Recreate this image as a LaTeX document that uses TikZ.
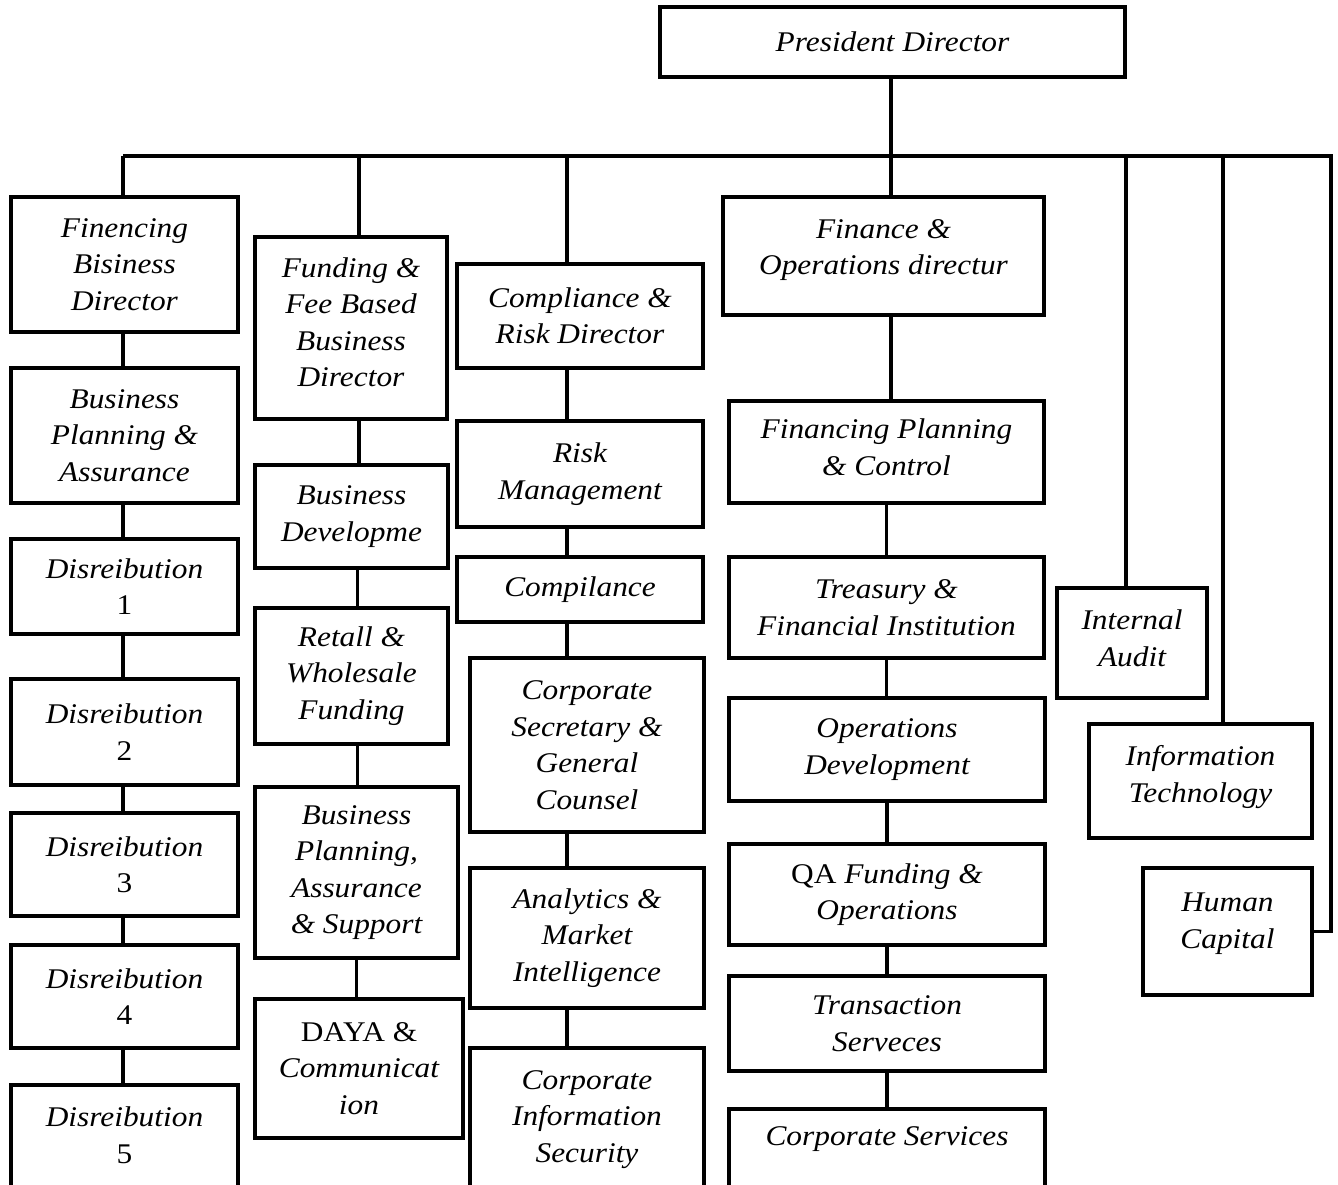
\documentclass[tikz,border=0pt]{standalone}
\usepackage{fontspec}
\setmainfont{Liberation Serif}[FakeStretch=1.1]
\begin{document}
\begin{tikzpicture}[x=1pt,y=-1pt,line width=3.5pt,
  box/.style={draw,align=center,inner sep=0pt,
    font=\fontsize{28.5}{36.5}\selectfont\itshape}]
%
\useasboundingbox (0,0) rectangle (1338,1185);
\clip (0,0) rectangle (1338,1185);
%
% --- top ---
\node[box,minimum width=465,minimum height=70] (pd) at (892.5,42) {President Director};
% bus points
\coordinate (b1) at (123,156);
\coordinate (b2) at (359,156);
\coordinate (b3) at (567,156);
\coordinate (b4) at (891,156);
\coordinate (b5) at (1126,156);
\coordinate (b6) at (1223,156);
\coordinate (b7) at (1331,156);
%
% --- column 1: financing business ---
\node[box,minimum width=227,minimum height=135] (fbd) at (124.5,264.5) {Finencing\\Bisiness\\Director};
\node[box,minimum width=227,minimum height=135] (bpa) at (124.5,435.5) {Business\\Planning \&\\Assurance};
\node[box,minimum width=227,minimum height=95] (dis1) at (124.5,586.5) {Disreibution\\{\upshape 1}};
\node[box,minimum width=227,minimum height=106] (dis2) at (124.5,732) {Disreibution\\{\upshape 2}};
\node[box,minimum width=227,minimum height=103] (dis3) at (124.5,864.5) {Disreibution\\{\upshape 3}};
\node[box,minimum width=227,minimum height=103] (dis4) at (124.5,996.5) {Disreibution\\{\upshape 4}};
\node[box,minimum width=227,minimum height=110] (dis5) at (124.5,1140) {Disreibution\\{\upshape 5}\rule[-10pt]{0pt}{0pt}};
%
% --- column 2: funding & fee based ---
\node[box,minimum width=192,minimum height=182] (ffb) at (351,328) {Funding \&\\Fee Based\\Business\\Director\rule[-12pt]{0pt}{0pt}};
\node[box,minimum width=193,minimum height=103] (bdev) at (351.5,516.5) {Business\\Developme};
\node[box,minimum width=193,minimum height=136] (rwf) at (351.5,676) {Retall \&\\Wholesale\\Funding};
\node[box,minimum width=203,minimum height=171] (bpas) at (356.5,872.5) {Business\\Planning,\\Assurance\\\& Support};
\node[box,minimum width=208,minimum height=139] (daya) at (359,1068.5) {{\upshape DAYA \&}\\Communicat\\ion};
%
% --- column 3: compliance & risk ---
\node[box,minimum width=246,minimum height=104] (crd) at (580,316) {Compliance \&\\Risk Director};
\node[box,minimum width=246,minimum height=106] (risk) at (580,474) {Risk\\Management};
\node[box,minimum width=246,minimum height=65] (comp) at (580,589.5) {Compilance};
\node[box,minimum width=234,minimum height=174] (csgc) at (587,745) {Corporate\\Secretary \&\\General\\Counsel};
\node[box,minimum width=234,minimum height=140] (ami) at (587,938) {Analytics \&\\Market\\Intelligence};
\node[box,minimum width=234,minimum height=150] (cis) at (587,1123) {Corporate\\Information\\Security\rule[-13pt]{0pt}{0pt}};
%
% --- column 4: finance & operations ---
\node[box,minimum width=321,minimum height=118] (fod) at (883.5,256) {Finance \&\\Operations directur\rule[-18pt]{0pt}{0pt}};
\node[box,minimum width=315,minimum height=102] (fpc) at (886.5,452) {Financing Planning\\\& Control\rule[-10pt]{0pt}{0pt}};
\node[box,minimum width=315,minimum height=101] (tfi) at (886.5,607.5) {Treasury \&\\Financial Institution};
\node[box,minimum width=316,minimum height=103] (opd) at (887,749.5) {Operations\\Development};
\node[box,minimum width=316,minimum height=101] (qaf) at (887,894.5) {{\upshape QA} Funding \&\\Operations};
\node[box,minimum width=316,minimum height=95] (trs) at (887,1023.5) {Transaction\\Serveces};
\node[box,minimum width=316,anchor=north,inner ysep=18] (cs) at (887,1107) {Corporate Services\rule[-90pt]{0pt}{0pt}};
%
% --- staff units ---
\node[box,minimum width=150,minimum height=110] (ia) at (1132,643) {Internal\\Audit\rule[-10pt]{0pt}{0pt}};
\node[box,minimum width=223,minimum height=114] (it) at (1200.5,781) {Information\\Technology\rule[-14pt]{0pt}{0pt}};
\node[box,minimum width=169,minimum height=127] (hc) at (1227.5,931.5) {Human\\Capital\rule[-22pt]{0pt}{0pt}};
%
% --- connectors ---
\draw (b1) -- (b7) |- (hc.east);
\draw (pd.south -| b4) -- (fod.north -| b4);
\draw (b1) -- (fbd.north -| b1);
\draw (b2) -- (ffb.north -| b2);
\draw (b3) -- (crd.north -| b3);
\draw (b5) -- (ia.north -| b5);
\draw (b6) -- (it.north -| b6);
% column 1
\draw (fbd.south -| b1) -- (bpa.north -| b1);
\draw (bpa.south -| b1) -- (dis1.north -| b1);
\draw (dis1.south -| b1) -- (dis2.north -| b1);
\draw (dis2.south -| b1) -- (dis3.north -| b1);
\draw (dis3.south -| b1) -- (dis4.north -| b1);
\draw (dis4.south -| b1) -- (dis5.north -| b1);
% column 2
\draw (ffb.south -| b2) -- (bdev.north -| b2);
\draw ([xshift=6]bdev.south) -- ([xshift=6]bdev.south |- rwf.north);
\draw ([xshift=6]rwf.south) -- ([xshift=6]rwf.south |- bpas.north);
\draw (bpas.south) -- (bpas.south |- daya.north);
% column 3
\draw (crd.south -| b3) -- (risk.north -| b3);
\draw (risk.south -| b3) -- (comp.north -| b3);
\draw (comp.south -| b3) -- (csgc.north -| b3);
\draw (csgc.south -| b3) -- (ami.north -| b3);
\draw (ami.south -| b3) -- (cis.north -| b3);
% column 4
\draw (fod.south -| b4) -- (fpc.north -| b4);
\draw (fpc.south -| tfi) -- (tfi.north);
\draw (tfi.south -| tfi) -- (opd.north -| tfi);
\draw (opd.south) -- (qaf.north);
\draw (qaf.south) -- (trs.north);
\draw (trs.south) -- (cs.north);
\end{tikzpicture}
\end{document}
